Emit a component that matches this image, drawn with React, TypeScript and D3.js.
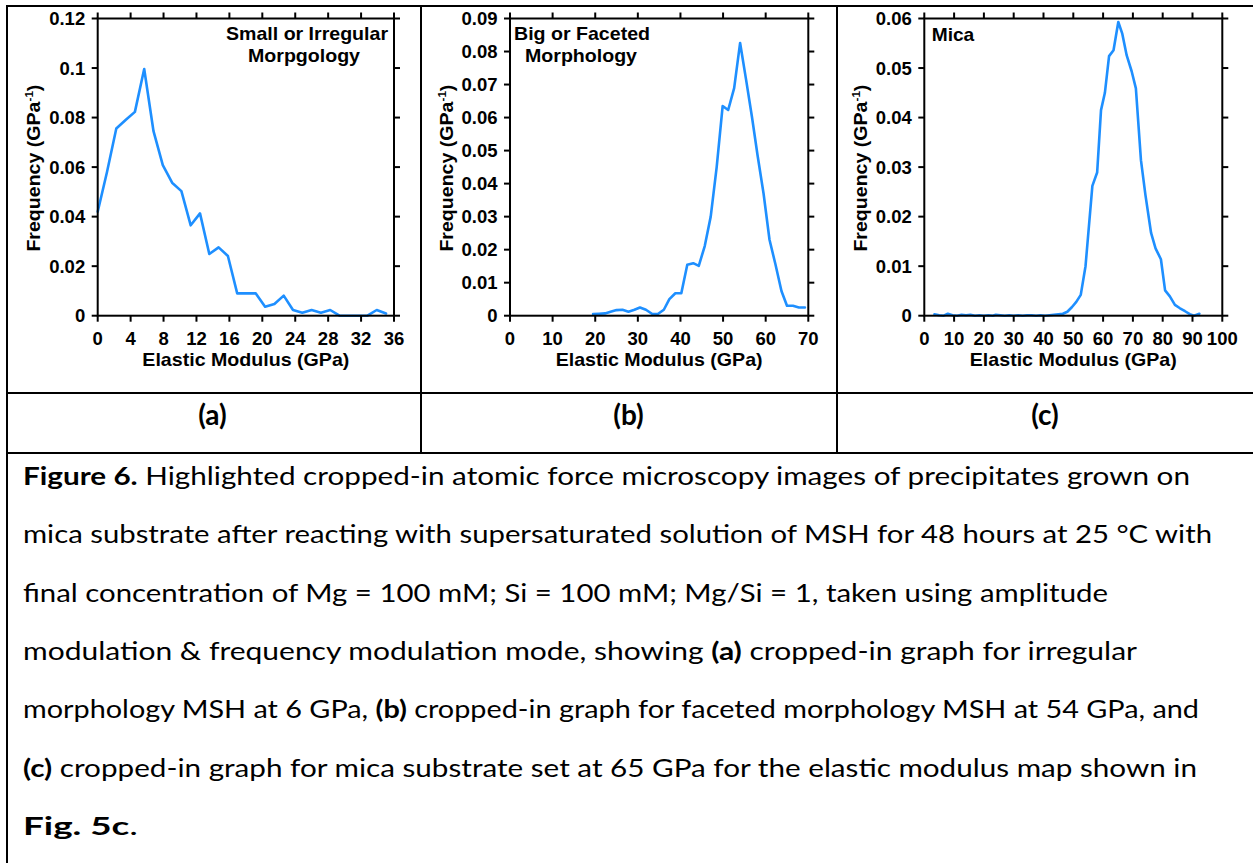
import React from 'react';
import * as d3 from 'd3';

// ---------- Data ----------
const aX = [0, 1.13, 2.26, 3.39, 4.52, 5.65, 6.78, 7.91, 9.04, 10.17, 11.3, 12.43, 13.56, 14.69, 15.82, 16.95, 18.08, 19.21, 20.34, 21.47, 22.6, 23.73, 24.86, 25.99, 27.12, 28.25, 29.38, 30.51, 31.64, 32.77, 33.9, 35.03];
const aY = [0.042, 0.058, 0.0756, 0.079, 0.0823, 0.0996, 0.0745, 0.0608, 0.0537, 0.0503, 0.0365, 0.0413, 0.0249, 0.0276, 0.0241, 0.009, 0.009, 0.009, 0.0036, 0.0047, 0.0081, 0.0023, 0.0012, 0.0023, 0.0012, 0.0023, 0, 0, 0, 0, 0.0023, 0.0009];

const bX = [19.5, 20.9, 22.3, 23.6, 25.0, 26.4, 27.8, 29.2, 30.5, 31.9, 33.3, 34.7, 36.1, 37.4, 38.8, 40.2, 41.6, 43.0, 44.3, 45.7, 47.1, 48.5, 49.9, 51.2, 52.6, 54.0, 55.4, 56.8, 58.1, 59.5, 60.9, 62.3, 63.7, 65.0, 66.4, 67.8, 69.2];
const bY = [0.0005, 0.0006, 0.0007, 0.0012, 0.0017, 0.0018, 0.0012, 0.0018, 0.0025, 0.0018, 0.0006, 0.0005, 0.0018, 0.005, 0.0068, 0.0068, 0.0154, 0.0159, 0.0151, 0.0211, 0.03, 0.045, 0.0635, 0.0623, 0.0689, 0.0826, 0.0715, 0.06, 0.0485, 0.037, 0.023, 0.0155, 0.0075, 0.003, 0.003, 0.0025, 0.0025];

const cX = [3.4, 5.0, 6.5, 7.9, 9.5, 11.0, 12.5, 14.0, 15.5, 17.0, 18.5, 20.0, 21.5, 23.0, 24.0, 25.5, 27.0, 28.5, 30.0, 31.5, 33.0, 34.5, 36.0, 37.5, 39.0, 40.5, 42.0, 43.5, 45.0, 46.5, 48.0, 49.5, 51.0, 52.5, 54.1, 56.4, 58.0, 59.3, 60.6, 62.0, 63.5, 65.1, 66.4, 67.9, 69.6, 71.0, 72.7, 74.2, 76.1, 77.6, 79.4, 80.8, 82.4, 84.1, 85.8, 87.5, 89.1, 90.5, 92.3];
const cY = [0.0003, 0.0001, 0.0, 0.0004, 0.0001, 0.0, 0.0002, 0.0001, 0.0002, 0.0, 0.0001, 0.0, 0.0001, 0.0, 0.0002, 0.0001, 0.0, 0.0001, 0.0, 0.0001, 0.0, 0.0001, 0.0001, 0.0, 0.0001, 0.0, 0.0001, 0.0002, 0.0003, 0.0004, 0.0008, 0.0017, 0.0028, 0.0042, 0.01, 0.0262, 0.0289, 0.0415, 0.045, 0.0524, 0.0536, 0.0593, 0.057, 0.0526, 0.0493, 0.0459, 0.0314, 0.0244, 0.0167, 0.0136, 0.0114, 0.0051, 0.0039, 0.0022, 0.0015, 0.0009, 0.0003, 0.0, 0.0004];

const aXTicks = [0, 4, 8, 12, 16, 20, 24, 28, 32, 36];
const aYTicks = [0, 0.02, 0.04, 0.06, 0.08, 0.1, 0.12];
const aYTickLabels = ['0', '0.02', '0.04', '0.06', '0.08', '0.1', '0.12'];

const bXTicks = [0, 10, 20, 30, 40, 50, 60, 70];
const bYTicks = [0, 0.01, 0.02, 0.03, 0.04, 0.05, 0.06, 0.07, 0.08, 0.09];
const bYTickLabels = ['0', '0.01', '0.02', '0.03', '0.04', '0.05', '0.06', '0.07', '0.08', '0.09'];

const cXTicks = [0, 10, 20, 30, 40, 50, 60, 70, 80, 90, 100];
const cYTicks = [0, 0.01, 0.02, 0.03, 0.04, 0.05, 0.06];
const cYTickLabels = ['0', '0.01', '0.02', '0.03', '0.04', '0.05', '0.06'];

const xAxisTitle = 'Elastic Modulus (GPa)';
const panelLetters = ['(a)', '(b)', '(c)'];

type Seg = { t: string; b?: boolean };
const captionLines: { segs: Seg[]; len: number }[] = [
  { segs: [{ t: 'Figure 6.', b: true }, { t: ' Highlighted cropped-in atomic force microscopy images of precipitates grown on' }], len: 1167 },
  { segs: [{ t: 'mica substrate after reacting with supersaturated solution of MSH for 48 hours at 25 °C with' }], len: 1189 },
  { segs: [{ t: 'final concentration of Mg = 100 mM; Si = 100 mM; Mg/Si = 1, taken using amplitude' }], len: 1085 },
  { segs: [{ t: 'modulation & frequency modulation mode, showing ' }, { t: '(a)', b: true }, { t: ' cropped-in graph for irregular' }], len: 1114 },
  { segs: [{ t: 'morphology MSH at 6 GPa, ' }, { t: '(b)', b: true }, { t: ' cropped-in graph for faceted morphology MSH at 54 GPa, and' }], len: 1176 },
  { segs: [{ t: '(c)', b: true }, { t: ' cropped-in graph for mica substrate set at 65 GPa for the elastic modulus map shown in' }], len: 1174 },
  { segs: [{ t: 'Fig. 5c', b: true }, { t: '.' }], len: 115 },
];

const AX_FONT = '"Liberation Sans", Arial, sans-serif';
const CAP_FONT = 'Lato, "Open Sans", sans-serif';
const LINE_COLOR = '#1E8FFF';

type TitleLine = { text: string; x: number; y: number; len: number; anchor: 'start' | 'middle' | 'end' };

function Panel(props: {
  left: number; right: number; top: number; bottom: number;
  xDomain: [number, number]; yDomain: [number, number];
  xTicks: number[]; yTicks: number[]; yTickLabels: string[];
  xs: number[]; ys: number[]; titles: TitleLine[];
}) {
  const { left, right, top, bottom, xDomain, yDomain, xTicks, yTicks, yTickLabels, xs, ys, titles } = props;
  const x = d3.scaleLinear().domain(xDomain).range([left, right]);
  const y = d3.scaleLinear().domain(yDomain).range([bottom, top]);
  const pts = xs.map((v, i) => [v, ys[i]] as [number, number]);
  const path = d3.line<[number, number]>().x((d) => x(d[0])).y((d) => y(d[1]))(pts) || '';
  const tl = 6;
  const cx = (left + right) / 2;
  const cy = (top + bottom) / 2;
  return (
    <g>
      <path d={path} fill="none" stroke={LINE_COLOR} strokeWidth={2.6} strokeLinejoin="round" strokeLinecap="round" />
      <rect x={left} y={top} width={right - left} height={bottom - top} fill="none" stroke="#000" strokeWidth={2} />
      {xTicks.map((t) => (
        <g key={'xt' + t}>
          <line x1={x(t)} x2={x(t)} y1={bottom} y2={bottom + tl} stroke="#000" strokeWidth={2} />
          <line x1={x(t)} x2={x(t)} y1={top} y2={top - tl} stroke="#000" strokeWidth={2} />
          <text x={x(t)} y={bottom + 29} textAnchor="middle" fontFamily={AX_FONT} fontWeight="bold" fontSize={18.5}>{String(t)}</text>
        </g>
      ))}
      {yTicks.map((t, i) => (
        <g key={'yt' + t}>
          <line x1={left - tl} x2={left} y1={y(t)} y2={y(t)} stroke="#000" strokeWidth={2} />
          <line x1={right} x2={right + tl} y1={y(t)} y2={y(t)} stroke="#000" strokeWidth={2} />
          <text x={left - 12.5} y={y(t) + 6.5} textAnchor="end" fontFamily={AX_FONT} fontWeight="bold" fontSize={18.5}>{yTickLabels[i]}</text>
        </g>
      ))}
      <text x={cx} y={bottom + 50} textAnchor="middle" fontFamily={AX_FONT} fontWeight="bold" fontSize={18.5}
        textLength={207} lengthAdjust="spacingAndGlyphs">{xAxisTitle}</text>
      <text transform={`translate(${left - 57.5},${cy + 1}) rotate(-90)`} textAnchor="middle" fontFamily={AX_FONT} fontWeight="bold" fontSize={18.5}
        textLength={167} lengthAdjust="spacingAndGlyphs">
        Frequency (GPa<tspan fontSize={11} dy={-7}>-1</tspan><tspan dy={7}>)</tspan>
      </text>
      {titles.map((tt, i) => (
        <text key={'ti' + i} x={tt.x} y={tt.y} textAnchor={tt.anchor} fontFamily={AX_FONT} fontWeight="bold" fontSize={18.5}
          textLength={tt.len} lengthAdjust="spacingAndGlyphs">{tt.text}</text>
      ))}
    </g>
  );
}

export default function App() {
  const W = 1253;
  const H = 863;
  const top = 18.5;
  const bottom = 315.7;
  const tableLeft = 7;
  const tableTop = 6;
  const div1 = 421;
  const div2 = 837;
  const row1 = 393;
  const row2 = 453;
  const letterCenters = [212.5, 628.5, 1045];
  const capBase = 485;
  const capStep = 58.33;
  return (
    <svg width={W} height={H} viewBox={`0 0 ${W} ${H}`} style={{ position: 'absolute', left: 0, top: 0, background: '#fff' }}>
      <rect x={0} y={0} width={W} height={H} fill="#fff" />
      {/* table grid */}
      <g stroke="#000" strokeWidth={2}>
        <line x1={tableLeft - 1} x2={W} y1={tableTop} y2={tableTop} />
        <line x1={tableLeft} x2={tableLeft} y1={tableTop} y2={H} />
        <line x1={div1} x2={div1} y1={tableTop} y2={row2} />
        <line x1={div2} x2={div2} y1={tableTop} y2={row2} />
        <line x1={tableLeft} x2={W} y1={row1} y2={row1} />
        <line x1={tableLeft} x2={W} y1={row2} y2={row2} />
      </g>

      <Panel left={97.7} right={394} top={top} bottom={bottom} xDomain={[0, 36]} yDomain={[0, 0.12]}
        xTicks={aXTicks} yTicks={aYTicks} yTickLabels={aYTickLabels} xs={aX} ys={aY}
        titles={[
          { text: 'Small or Irregular', x: 307, y: 39.5, len: 162, anchor: 'middle' },
          { text: 'Morpgology', x: 304, y: 61.5, len: 112, anchor: 'middle' },
        ]} />
      <Panel left={510} right={808.3} top={top} bottom={bottom} xDomain={[0, 70]} yDomain={[0, 0.09]}
        xTicks={bXTicks} yTicks={bYTicks} yTickLabels={bYTickLabels} xs={bX} ys={bY}
        titles={[
          { text: 'Big or Faceted', x: 582, y: 39.5, len: 136, anchor: 'middle' },
          { text: 'Morphology', x: 581, y: 61.5, len: 112, anchor: 'middle' },
        ]} />
      <Panel left={924.3} right={1222.3} top={top} bottom={bottom} xDomain={[0, 100]} yDomain={[0, 0.06]}
        xTicks={cXTicks} yTicks={cYTicks} yTickLabels={cYTickLabels} xs={cX} ys={cY}
        titles={[
          { text: 'Mica', x: 931.7, y: 40.5, len: 42.6, anchor: 'start' },
        ]} />

      {panelLetters.map((l, i) => (
        <text key={l} x={letterCenters[i]} y={425} textAnchor="middle" fontFamily={CAP_FONT} fontWeight="bold" fontSize={28}>{l}</text>
      ))}

      {captionLines.map((ln, i) => (
        <text key={'cap' + i} x={23} y={capBase + i * capStep} fontFamily={CAP_FONT} fontSize={25}
          textLength={ln.len} lengthAdjust="spacingAndGlyphs">
          {ln.segs.map((s, j) => (
            <tspan key={j} fontWeight={s.b ? 'bold' : 'normal'}>{s.t}</tspan>
          ))}
        </text>
      ))}
    </svg>
  );
}
